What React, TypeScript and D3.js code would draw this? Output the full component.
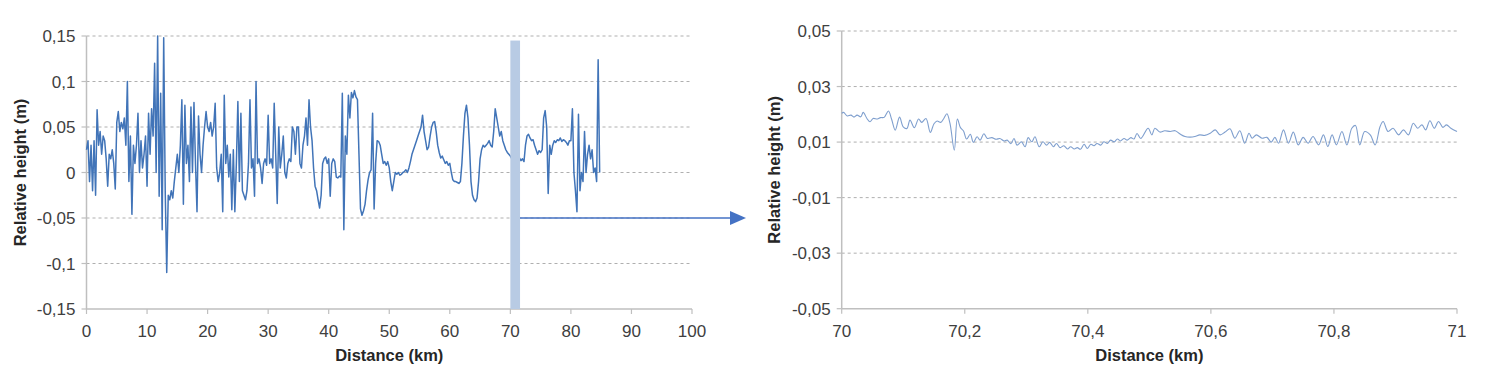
import React from 'react';
import * as d3 from 'd3';

// ---------- DATA ----------
const leftStartKm = 0;
const leftStepKm = 0.25;
const leftHeights = [
  0.025, 0.035, -0.01, 0.03,
  -0.02, 0.035, -0.025, 0.069,
  0.03, 0.045, 0.02, 0.04,
  0.035, 0.015, -0.015, 0.02,
  0.015, 0.025, 0.01, -0.018,
  0.055, 0.067, 0.045, 0.055,
  0.048, 0.06, 0.03, 0.1,
  -0.01, 0.04, -0.046, 0.03,
  0.01, 0.03, 0.065, 0.0,
  0.035, 0.005, 0.02, 0.04,
  -0.015, 0.065, 0.02, 0.07,
  0.04, 0.12, 0.0, 0.15,
  -0.026, 0.087, -0.063, 0.148,
  -0.02, -0.11, -0.025, -0.03,
  -0.02, -0.028, -0.01, 0.005,
  0.02, 0.0, 0.03, 0.08,
  -0.035, 0.074, 0.01, 0.03,
  -0.01, 0.072, 0.0, 0.077,
  0.01, -0.043, 0.062, 0.02,
  0.0, 0.03, 0.05, 0.067,
  0.05, 0.045, 0.055, 0.04,
  0.05, 0.076, 0.005, -0.01,
  0.0, 0.02, -0.043, 0.085,
  0.01, 0.03, -0.005, 0.02,
  -0.041, 0.025, -0.043, 0.01,
  0.078, -0.01, 0.065, -0.02,
  -0.025, -0.03, -0.02, 0.01,
  0.08, 0.005, 0.015, -0.026,
  0.1, 0.01, 0.015, 0.005,
  -0.012, 0.01, 0.015, 0.008,
  0.063, 0.01, 0.015, 0.005,
  0.076, 0.02, -0.034, 0.05,
  0.005, 0.02, 0.04, 0.0,
  -0.006, 0.01, 0.015, 0.012,
  0.05, 0.045, 0.02, 0.05,
  0.05, 0.01, 0.005, 0.03,
  0.04, 0.06, 0.03, 0.08,
  0.05, 0.035, 0.005, -0.015,
  -0.02, -0.03, -0.039, -0.025,
  0.01, 0.015, 0.017, 0.01,
  0.015, -0.026, 0.01, 0.015,
  0.012, -0.005, -0.006, -0.004,
  -0.005, 0.087, -0.063, 0.04,
  0.02, 0.085, 0.06, 0.088,
  0.082, 0.09, 0.083, 0.08,
  0.02, -0.04, -0.047, -0.042,
  -0.035, -0.02, -0.008, 0.0,
  0.003, 0.065, -0.04, 0.01,
  0.035, 0.034, 0.03, 0.02,
  0.01, 0.012, 0.008, 0.012,
  0.005, -0.01, -0.02, -0.01,
  0.0, -0.002, 0.0, -0.003,
  -0.002, 0.0, 0.001, 0.003,
  0.0, 0.005, 0.012, 0.02,
  0.025, 0.03, 0.035, 0.04,
  0.045, 0.05, 0.063, 0.045,
  0.035, 0.025, 0.028, 0.04,
  0.05, 0.055, 0.056, 0.045,
  0.03, 0.022, 0.016, 0.018,
  0.014, 0.01, 0.012, 0.008,
  0.01, 0.0, -0.008, -0.01,
  -0.01, -0.011, -0.012, -0.01,
  0.01, 0.04, 0.065, 0.074,
  0.06, 0.03, -0.01, -0.025,
  -0.03, -0.032, -0.028, -0.01,
  0.015, 0.025, 0.03, 0.028,
  0.03, 0.032, 0.035, 0.03,
  0.028, 0.045, 0.07, 0.06,
  0.05, 0.04, 0.045, 0.035,
  0.03, 0.025, 0.022, 0.02,
  0.018, 0.015, 0.012, 0.013,
  0.015, 0.014, 0.016, 0.013,
  0.015, 0.012, 0.03, 0.04,
  0.042, 0.038, 0.035, 0.036,
  0.03, 0.025, 0.02, 0.024,
  0.022, 0.025, 0.06, 0.068,
  0.05, -0.023, 0.03, 0.02,
  0.03, 0.035, 0.033, 0.036,
  0.035, 0.038, 0.034, 0.036,
  0.035, 0.033, 0.03, 0.035,
  0.035, 0.07, 0.0, -0.02,
  -0.043, 0.064, -0.02, 0.0,
  -0.01, 0.045, 0.0, 0.02,
  0.03, 0.015, 0.025, 0.0,
  0.005, -0.01, 0.124, 0.0,
];

const rightDistanceKm = [
  70.000, 70.003, 70.009, 70.015, 70.020, 70.025, 70.031, 70.035, 70.041, 70.046,
  70.051, 70.058, 70.063, 70.069, 70.076, 70.081, 70.087, 70.094, 70.100, 70.106,
  70.111, 70.118, 70.125, 70.130, 70.137, 70.144, 70.150, 70.155, 70.161, 70.166,
  70.171, 70.176, 70.183, 70.188, 70.193, 70.198, 70.203, 70.209, 70.214, 70.220,
  70.225, 70.231, 70.237, 70.244, 70.251, 70.257, 70.264, 70.269, 70.275, 70.280,
  70.285, 70.292, 70.298, 70.303, 70.309, 70.314, 70.321, 70.327, 70.333, 70.338,
  70.344, 70.349, 70.355, 70.361, 70.367, 70.372, 70.378, 70.383, 70.388, 70.394,
  70.399, 70.405, 70.410, 70.415, 70.421, 70.426, 70.432, 70.437, 70.443, 70.448,
  70.453, 70.459, 70.464, 70.470, 70.475, 70.480, 70.486,
  70.498, 70.504, 70.509, 70.517, 70.525, 70.534, 70.542, 70.550, 70.558, 70.566,
  70.574, 70.582, 70.590, 70.599, 70.607, 70.615, 70.623, 70.631, 70.639, 70.647,
  70.655, 70.662, 70.667, 70.674, 70.683, 70.691, 70.698, 70.704, 70.710, 70.718,
  70.726, 70.734, 70.742, 70.750, 70.758, 70.766, 70.775, 70.783, 70.790, 70.797,
  70.804, 70.813, 70.821, 70.829, 70.835, 70.842, 70.850, 70.859, 70.867, 70.875,
  70.880, 70.888, 70.896, 70.905, 70.913, 70.921, 70.929, 70.936, 70.943, 70.949,
  70.956, 70.963, 70.970, 70.977, 70.983, 70.990, 71.000,
];

const rightHeights = [
  0.0203, 0.0207, 0.0194, 0.0197, 0.0190, 0.0197, 0.0191, 0.0207, 0.0185, 0.0173,
  0.0185, 0.0183, 0.0188, 0.0189, 0.0212, 0.0183, 0.0143, 0.0190, 0.0155, 0.0149,
  0.0179, 0.0152, 0.0183, 0.0171, 0.0185, 0.0135, 0.0166, 0.0176, 0.0171, 0.0185,
  0.0202, 0.0167, 0.0071, 0.0183, 0.0152, 0.0140, 0.0111, 0.0128, 0.0099, 0.0119,
  0.0107, 0.0130, 0.0113, 0.0116, 0.0110, 0.0113, 0.0104, 0.0107, 0.0094, 0.0113,
  0.0089, 0.0101, 0.0083, 0.0116, 0.0101, 0.0119, 0.0083, 0.0101, 0.0089, 0.0099,
  0.0083, 0.0095, 0.0080, 0.0087, 0.0075, 0.0083, 0.0075, 0.0080, 0.0074, 0.0092,
  0.0077, 0.0092, 0.0087, 0.0095, 0.0089, 0.0101, 0.0095, 0.0107, 0.0101, 0.0111,
  0.0104, 0.0113, 0.0107, 0.0116, 0.0111, 0.0131, 0.0113,
  0.0150, 0.0126, 0.0150, 0.0136, 0.0141, 0.0138, 0.0141, 0.0129, 0.0120, 0.0118,
  0.0120, 0.0126, 0.0124, 0.0132, 0.0144, 0.0126, 0.0136, 0.0148, 0.0114, 0.0141,
  0.0096, 0.0132, 0.0114, 0.0126, 0.0114, 0.0117, 0.0100, 0.0117, 0.0096, 0.0144,
  0.0096, 0.0136, 0.0090, 0.0117, 0.0096, 0.0120, 0.0090, 0.0126, 0.0084, 0.0126,
  0.0090, 0.0138, 0.0090, 0.0150, 0.0160, 0.0090, 0.0138, 0.0126, 0.0090, 0.0156,
  0.0174, 0.0138, 0.0150, 0.0126, 0.0144, 0.0126, 0.0168, 0.0150, 0.0162, 0.0144,
  0.0177, 0.0150, 0.0174, 0.0153, 0.0162, 0.0150, 0.0138,
];

const leftXTicks = [0, 10, 20, 30, 40, 50, 60, 70, 80, 90, 100];
const leftYTicks = [-0.15, -0.1, -0.05, 0, 0.05, 0.1, 0.15];
const rightXTicks = [70, 70.2, 70.4, 70.6, 70.8, 71];
const rightYTicks = [-0.05, -0.03, -0.01, 0.01, 0.03, 0.05];
const highlightKm = [70, 71.6];
const highlightTop = 0.145;
const arrowLevel = -0.05;
const xTitle = 'Distance (km)';
const yTitle = 'Relative height (m)';

// ---------- STYLE ----------
const FONT = '"Liberation Sans", Arial, sans-serif';
const AXIS_COLOR = '#bfbfbf';
const GRID_COLOR = '#a6a6a6';
const TEXT_COLOR = '#404040';
const TITLE_COLOR = '#262626';
const LEFT_LINE = '#4174b8';
const RIGHT_LINE = '#7f9fce';
const BAND_FILL = '#b8cbe4';
const ARROW = '#4472c4';

const fmt = (v: number) => String(+v.toFixed(2)).replace('.', ',');

type PanelProps = {
  x: d3.ScaleLinear<number, number>;
  y: d3.ScaleLinear<number, number>;
  xTicks: number[];
  yTicks: number[];
};

function Frame({ x, y, xTicks, yTicks }: PanelProps) {
  const [x0, x1] = x.range();
  const [yb, yt] = y.range();
  return (
    <g>
      {yTicks.map((t) =>
        y(t) < yb - 1 ? (
          <line key={'g' + t} x1={x0} x2={x1} y1={y(t)} y2={y(t)} stroke={GRID_COLOR} strokeWidth={0.9} strokeDasharray="3,3" />
        ) : null
      )}
      <line x1={x0} x2={x0} y1={yt} y2={yb} stroke={AXIS_COLOR} strokeWidth={1.5} />
      <line x1={x0} x2={x1} y1={yb} y2={yb} stroke={AXIS_COLOR} strokeWidth={1.5} />
      {yTicks.map((t) => (
        <g key={'yt' + t}>
          <line x1={x0 - 5} x2={x0} y1={y(t)} y2={y(t)} stroke={AXIS_COLOR} strokeWidth={1.2} />
          <text x={x0 - 11} y={y(t)} dy="0.36em" textAnchor="end" fontSize={17} fill={TEXT_COLOR} fontFamily={FONT}>
            {fmt(t)}
          </text>
        </g>
      ))}
      {xTicks.map((t) => (
        <g key={'xt' + t}>
          <line x1={x(t)} x2={x(t)} y1={yb} y2={yb + 5} stroke={AXIS_COLOR} strokeWidth={1.2} />
          <text x={x(t)} y={337} textAnchor="middle" fontSize={17} fill={TEXT_COLOR} fontFamily={FONT}>
            {fmt(t)}
          </text>
        </g>
      ))}
      <text x={(x0 + x1) / 2} y={361} textAnchor="middle" fontSize={16.5} fontWeight="bold" fill={TITLE_COLOR} fontFamily={FONT}>
        {xTitle}
      </text>
    </g>
  );
}

export default function App() {
  const lx = d3.scaleLinear().domain([0, 100]).range([86.5, 692]);
  const ly = d3.scaleLinear().domain([-0.15, 0.15]).range([309, 36]);
  const rx = d3.scaleLinear().domain([70, 71]).range([841.7, 1457]);
  const ry = d3.scaleLinear().domain([-0.05, 0.05]).range([308.7, 31]);

  const leftLine = d3
    .line<number>()
    .x((_, i) => lx(leftStartKm + i * leftStepKm))
    .y((d) => ly(d));

  const rightData = rightDistanceKm.map((k, i) => [k, rightHeights[i]] as [number, number]);
  const rightLine = d3
    .line<[number, number]>()
    .x((d) => rx(d[0]))
    .y((d) => ry(d[1]))
    .curve(d3.curveCatmullRom.alpha(0.5));

  const bandX0 = lx(highlightKm[0]);
  const bandX1 = lx(highlightKm[1]);
  const arrowY = ly(arrowLevel);
  const arrowTip = 746;

  return (
    <svg width={1485} height={382} style={{ position: 'absolute', left: 0, top: 0, background: '#fff' }}>
      <rect x={0} y={0} width={1485} height={382} fill="#fff" />
      {/* Left panel */}
      <Frame x={lx} y={ly} xTicks={leftXTicks} yTicks={leftYTicks} />
      <path d={leftLine(leftHeights) || ''} fill="none" stroke={LEFT_LINE} strokeWidth={1.5} strokeLinejoin="round" />
      <rect x={bandX0} y={ly(highlightTop)} width={bandX1 - bandX0} height={ly(-0.15) - ly(highlightTop)} fill={BAND_FILL} />
      <text
        transform={`translate(20,${(ly.range()[0] + ly.range()[1]) / 2}) rotate(-90)`}
        textAnchor="middle"
        dy="0.35em"
        fontSize={16.5}
        fontWeight="bold"
        fill={TITLE_COLOR}
        fontFamily={FONT}
      >
        {yTitle}
      </text>
      {/* Arrow */}
      <line x1={bandX1} x2={arrowTip - 14} y1={arrowY} y2={arrowY} stroke={ARROW} strokeWidth={1.3} />
      <path d={`M${arrowTip - 16},${arrowY - 7} L${arrowTip},${arrowY} L${arrowTip - 16},${arrowY + 7} Z`} fill={ARROW} />

      {/* Right panel */}
      <Frame x={rx} y={ry} xTicks={rightXTicks} yTicks={rightYTicks} />
      <path d={rightLine(rightData) || ''} fill="none" stroke={RIGHT_LINE} strokeWidth={1.1} />
      <text
        transform={`translate(774,${(ry.range()[0] + ry.range()[1]) / 2}) rotate(-90)`}
        textAnchor="middle"
        dy="0.35em"
        fontSize={16.5}
        fontWeight="bold"
        fill={TITLE_COLOR}
        fontFamily={FONT}
      >
        {yTitle}
      </text>
    </svg>
  );
}
